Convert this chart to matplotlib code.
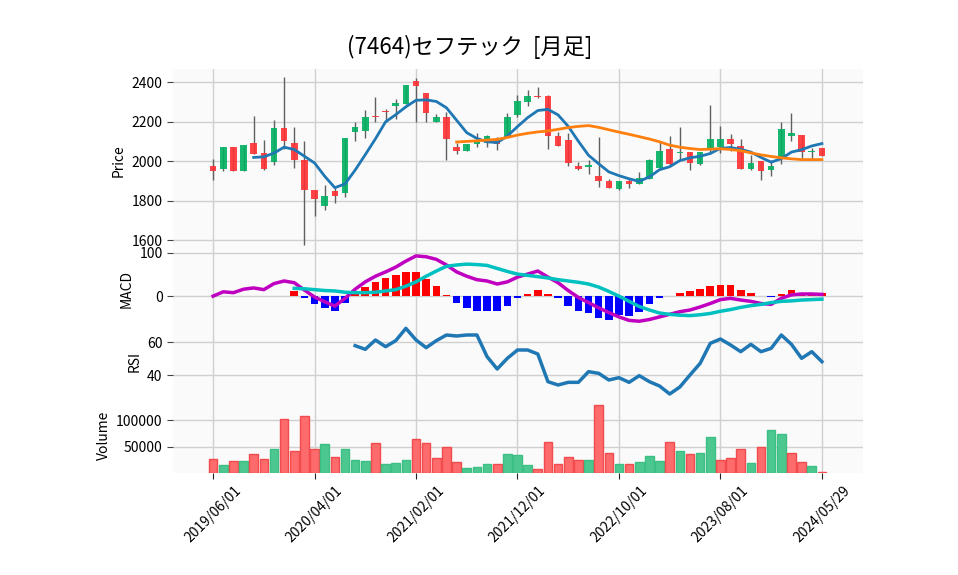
import numpy as np
import pandas as pd
import matplotlib as mpl
mpl.use('Agg')
import matplotlib.pyplot as plt

plt.rcParams['font.family'] = ['Noto Sans CJK JP', 'DejaVu Sans']

# monthly bars, the last one is the current (partial) month
dates = list(pd.date_range('2019-06-01', periods=60, freq='MS')) + [pd.Timestamp('2024-05-29')]

opens = [1975, 1961, 2073, 1949, 2093, 2042, 1998, 2170, 2093, 2008,
         1854, 1776, 1849, 1837, 2146, 2153, 2227, 2252, 2278, 2288,
         2407, 2347, 2200, 2224, 2071, 2053, 2085, 2092, 2108, 2124,
         2234, 2298, 2329, 2327, 2129, 2107, 1975, 1969, 1924, 1900,
         1861, 1900, 1883, 1912, 1968, 2061, 2040, 2047, 1988, 2064,
         2073, 2114, 2078, 1963, 2000, 1953, 2022, 2127, 2134, 2044, 2066]
highs = [2010, 2073, 2073, 2083, 2229, 2107, 2208, 2425, 2173, 2100,
         1854, 1878, 1869, 2117, 2197, 2259, 2322, 2264, 2315, 2386,
         2420, 2347, 2237, 2251, 2090, 2088, 2141, 2132, 2124, 2242,
         2336, 2361, 2373, 2336, 2146, 2144, 1997, 2005, 2120, 1908,
         1900, 1912, 1946, 2012, 2102, 2127, 2175, 2047, 2047, 2285,
         2178, 2139, 2110, 2031, 2000, 2005, 2200, 2242, 2134, 2068, 2066]
lows = [1903, 1952, 1949, 1949, 2034, 1956, 1980, 2061, 1966, 1578,
        1722, 1754, 1788, 1819, 2103, 2119, 2200, 2200, 2214, 2288,
        2200, 2200, 2197, 2005, 2037, 2053, 2071, 2073, 2056, 2124,
        2222, 2281, 2319, 2061, 2075, 1976, 1953, 1937, 1869, 1866,
        1853, 1864, 1883, 1912, 1968, 1980, 2005, 1954, 1983, 2034,
        2041, 2054, 1963, 1954, 1903, 1924, 1988, 2102, 2017, 2010, 2024]
closes = [1949, 2073, 1949, 2083, 2034, 1963, 2170, 2100, 2008, 1853,
          1810, 1822, 1822, 2117, 2175, 2225, 2224, 2249, 2293, 2386,
          2380, 2242, 2225, 2110, 2054, 2088, 2098, 2127, 2086, 2224,
          2302, 2327, 2325, 2127, 2075, 1990, 1963, 1980, 1902, 1866,
          1900, 1883, 1915, 2007, 2053, 1985, 2046, 1990, 2047, 2114,
          2114, 2085, 1963, 1992, 1951, 1976, 2163, 2144, 2046, 2051, 2024]
volumes = [26900, 15400, 23100, 23100, 36500, 26900, 44900, 101900, 42300, 107700,
           46200, 55800, 30800, 44900, 25600, 23100, 57700, 17300, 19200, 25600,
           65400, 57700, 28800, 50000, 21200, 10300, 12200, 17300, 17300, 36500,
           35000, 15400, 7700, 59600, 17300, 30800, 25000, 25000, 128800, 38500,
           17300, 17300, 21200, 32700, 23100, 59600, 42300, 36500, 38500, 69200,
           25000, 28800, 46200, 19200, 50000, 80800, 73100, 38500, 21200, 13500, 1900]

# moving averages (5 from bar 4, 25 from bar 24)
ma5 = [2019, 2022, 2041, 2071, 2059, 2025, 1991, 1924, 1866, 1885,
       1955, 2033, 2113, 2199, 2235, 2275, 2308, 2310, 2302, 2270,
       2207, 2144, 2115, 2098, 2094, 2127, 2175, 2220, 2256, 2262,
       2234, 2176, 2101, 2030, 1987, 1946, 1927, 1911, 1898, 1921,
       1957, 1972, 2003, 2017, 2025, 2039, 2065, 2069, 2060, 2046,
       2019, 1995, 2013, 2046, 2058, 2077, 2089]
ma25 = [2097, 2100, 2103, 2107, 2110, 2120, 2132, 2141, 2148, 2153,
        2161, 2170, 2176, 2180, 2171, 2159, 2147, 2136, 2124, 2112,
        2098, 2081, 2071, 2064, 2059, 2061, 2063, 2059, 2053, 2042,
        2032, 2024, 2017, 2012, 2008, 2008, 2008]

macd = [0, 10, 8, 16, 19, 15, 29, 35, 31, 14,
        -2, -13, -23, -5, 16, 33, 46, 56, 67, 81,
        93, 91, 85, 72, 56, 46, 38, 35, 28, 33,
        44, 51, 58, 44, 31, 13, -3, -15, -27, -38,
        -48, -56, -58, -54, -48, -42, -36, -32, -25, -17,
        -8, -5, -9, -12, -17, -19, -5, 3, 5, 5, 4]
signal = [18, 17, 15, 13, 12, 9, 8, 8, 9, 12,
          15, 23, 33, 46, 58, 69, 72, 74, 73, 71,
          64, 57, 51, 48, 45, 42, 38, 35, 32, 28,
          21, 11, 0, -12, -24, -32, -39, -42, -44, -45,
          -43, -40, -35, -31, -26, -22, -19, -15, -12, -11, -9, -8, -7]
hist = [12, -5, -19, -28, -35, -15, 4, 21, 33, 42,
        50, 56, 56, 39, 24, 3, -15, -27, -34, -34,
        -34, -22, -5, 6, 14, 5, -5, -22, -35, -40,
        -50, -55, -44, -45, -36, -19, -5, 0, 8, 12,
        16, 23, 26, 26, 14, 8, 0, -3, 6, 14, 8, 8, 7]

rsi = [57.8, 55.6, 61.2, 57.2, 60.8, 68.2, 61.2, 56.6, 60.8, 64.2,
       63.6, 64.2, 64.2, 51.2, 43.8, 50.2, 55.2, 55.2, 52.8, 36.2,
       34.2, 35.8, 35.8, 42.2, 41.2, 37.2, 38.6, 35.8, 39.8, 36.2,
       33.6, 28.8, 33.0, 40.2, 47.2, 59.2, 61.8, 58.2, 54.2, 58.6,
       54.2, 56.2, 64.2, 58.6, 50.2, 54.2, 48.2]

n = len(closes)
x = np.arange(n)
o = np.array(opens); c = np.array(closes)

W, H = 958, 575
fig = plt.figure(figsize=(W / 100, H / 100), dpi=100)

def panel(top, bottom, share=None):
    ax = fig.add_axes([173 / W, (H - bottom) / H, 690 / W, (bottom - top) / H], sharex=share)
    ax.set_facecolor('#fafafa')
    ax.grid(True, color='#d0d0d0', linewidth=1)
    ax.set_axisbelow(True)
    for s in ax.spines.values():
        s.set_visible(False)
    ax.tick_params(axis='y', length=4, color='#444444', labelsize=10)
    return ax

axp = panel(69, 252)
axm = panel(252, 326, axp)
axr = panel(326, 398, axp)
axv = panel(398, 473, axp)

# candles
up = c >= o
body_col = np.where(up, '#00b060', '#fe3032')
axp.vlines(x, lows, highs, colors='#606060', linewidth=1, zorder=2)
axp.bar(x, np.maximum(np.abs(c - o), 2), bottom=np.minimum(o, c), width=0.65,
        color=body_col, alpha=0.9, zorder=3)
axp.plot(x[4:], ma5, color='#1f77b4', linewidth=2, zorder=4)
axp.plot(x[24:], ma25, color='#ff7f0e', linewidth=2, zorder=4)
axp.set_ylim(1541, 2466)
axp.set_yticks([1600, 1800, 2000, 2200, 2400])
axp.set_ylabel('Price', fontsize=10)

# MACD
hcol = ['#ff0000' if v >= 0 else '#0000ff' for v in hist]
axm.bar(x[8:], hist, width=0.75, color=hcol, zorder=2)
axm.plot(x, macd, color='#c000c0', linewidth=2.5, zorder=3)
axm.plot(x[8:], signal, color='#00c0c0', linewidth=2.5, zorder=3)
axm.set_ylim(-69, 102)
axm.set_yticks([0, 100])
axm.set_ylabel('MACD', fontsize=10)

# RSI
axr.plot(x[14:], rsi, color='#1f77b4', linewidth=2.5)
axr.set_ylim(26.4, 69.6)
axr.set_yticks([40, 60])
axr.set_ylabel('RSI', fontsize=10)

# volume, coloured by close vs previous close
prev = np.concatenate([[np.inf], c[:-1]])
vup = c > prev
vcol = np.where(vup, '#4dc790', '#fd6b6c')
vedge = np.where(vup, '#3cbf84', '#f24b4d')
axv.bar(x, volumes, width=0.85, color=vcol, edgecolor=vedge, linewidth=1, zorder=2)
axv.set_ylim(0, 142300)
axv.set_yticks([50000, 100000])
axv.set_yticklabels(['50000', '100000'])
axv.set_ylabel('Volume', fontsize=10)

ticks = list(range(0, n, 10))
axv.set_xticks(ticks)
axv.set_xticklabels([dates[i].strftime('%Y/%m/%d') for i in ticks], rotation=45, fontsize=10)
axv.set_xlim(-3.95, 64.05)
for ax in (axp, axm, axr):
    ax.tick_params(axis='x', length=0, labelbottom=False)
axv.tick_params(axis='x', length=4, color='#222222')

fig.suptitle('(7464)セフテック  [月足]', x=0.49, y=0.94, fontsize=16)

plt.savefig('out.png', dpi=100)
